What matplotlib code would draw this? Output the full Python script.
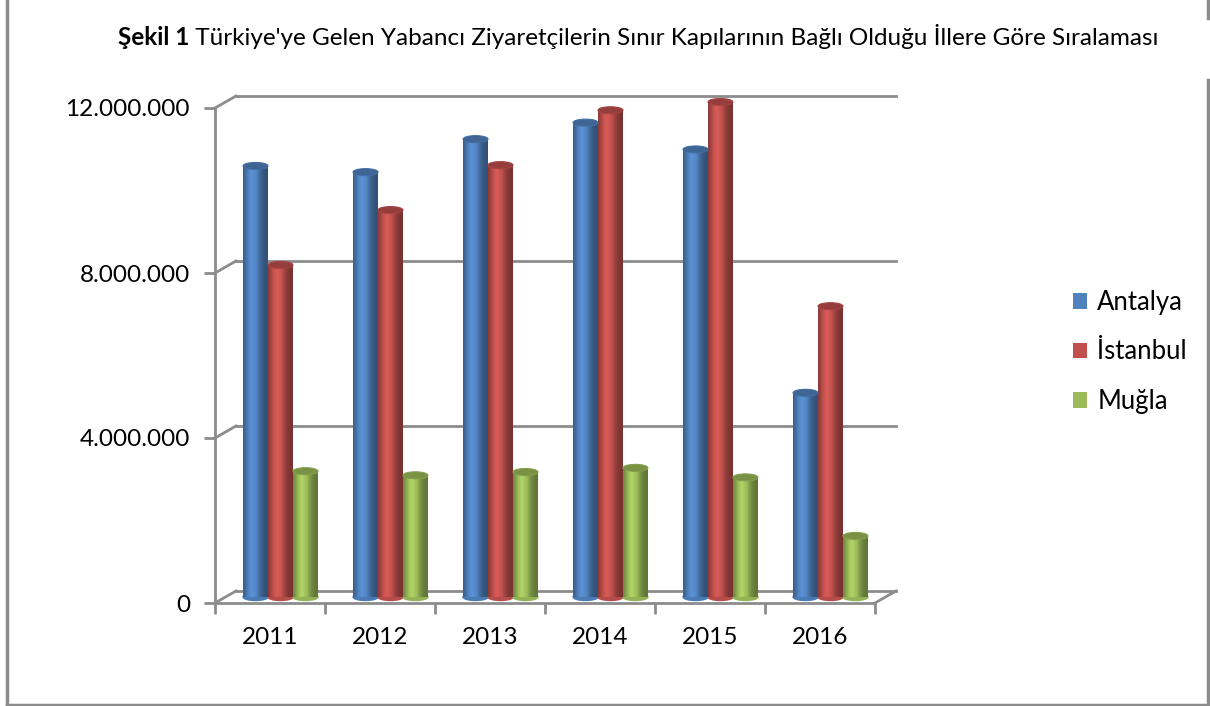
import numpy as np
import matplotlib
matplotlib.use("Agg")
import matplotlib.pyplot as plt
import matplotlib.transforms as mtransforms
from matplotlib.patches import Ellipse, Patch
from matplotlib.lines import Line2D

# === Data ===
years = ["2011", "2012", "2013", "2014", "2015", "2016"]
antalya = [10450000, 10300000, 11100000, 11500000, 10850000, 4950000]
istanbul = [8050000, 9380000, 10470000, 11800000, 12000000, 7050000]
mugla = [3050000, 2950000, 3030000, 3130000, 2900000, 1480000]
series_names = ["Antalya", "İstanbul", "Muğla"]
series_values = [antalya, istanbul, mugla]
series_colors = ["#4F81BD", "#C0504D", "#9BBB59"]
yticks = [0, 4000000, 8000000, 12000000]

# === Style ===
plt.rcParams["font.family"] = ["Lato", "DejaVu Sans"]
GRAY = "#8C8C8C"
DEPTH = (21, 12)        # back wall offset in pixels
W, H = 1210, 706

fig = plt.figure(figsize=(W / 100, H / 100), dpi=100)
ax = fig.add_axes([215 / W, (H - 603) / H, 660 / W, 495 / H])
ax.set_xlim(0, len(years))
ax.set_ylim(0, 12000000)
ax.patch.set_visible(False)

back = mtransforms.offset_copy(ax.transData, fig=fig, x=DEPTH[0], y=DEPTH[1], units="dots")
mid = mtransforms.offset_copy(ax.transData, fig=fig, x=DEPTH[0] / 2, y=DEPTH[1] / 2, units="dots")

# back wall gridlines + left diagonals
n = len(years)
for v in yticks:
    ax.plot([0, n], [v, v], color=GRAY, lw=2, transform=back, clip_on=False, zorder=1)
    p0 = ax.transData.transform((0, v))
    fig.add_artist(Line2D([p0[0] / W, (p0[0] + DEPTH[0]) / W],
                          [p0[1] / H, (p0[1] + DEPTH[1]) / H],
                          color=GRAY, lw=2, transform=fig.transFigure, zorder=1))
# right floor diagonal
p1 = ax.transData.transform((n, 0))
fig.add_artist(Line2D([p1[0] / W, (p1[0] + DEPTH[0]) / W],
                      [p1[1] / H, (p1[1] + DEPTH[1]) / H],
                      color=GRAY, lw=2, transform=fig.transFigure, zorder=1))

# === Cylinder bars ===
bw = 0.227
strips = 24
px_per_unit = 495 / 12000000
ell_h = 7 / px_per_unit
for s, (vals, col) in enumerate(zip(series_values, series_colors)):
    base = np.array(matplotlib.colors.to_rgb(col))
    for i, v in enumerate(vals):
        cx = i + 0.5 + (s - 1) * bw
        left = cx - bw / 2
        for k in range(strips):
            t = (k + 0.5) / strips
            m = 0.62 + 0.5 * np.exp(-((t - 0.38) / 0.3) ** 2)
            c = np.clip(base * m, 0, 1)
            ax.bar(left + k * bw / strips, v, width=bw / strips * 1.02, align="edge",
                   color=c, lw=0, transform=mid, clip_on=False, zorder=3)
        ax.add_patch(Ellipse((cx, 0), bw, ell_h, color=np.clip(base * 0.95, 0, 1),
                             transform=mid, clip_on=False, zorder=2.9))
        ax.add_patch(Ellipse((cx, v), bw, ell_h, facecolor=np.clip(base * 0.78, 0, 1),
                             edgecolor=np.clip(base * 0.85, 0, 1), lw=0.8,
                             transform=mid, clip_on=False, zorder=4))

# === Axes ===
for sp in ["top", "right"]:
    ax.spines[sp].set_visible(False)
for sp in ["left", "bottom"]:
    ax.spines[sp].set_color(GRAY)
    ax.spines[sp].set_linewidth(2)
    ax.spines[sp].set_zorder(5)
ax.set_yticks(yticks)
ax.set_yticklabels([f"{v:,}".replace(",", ".") for v in yticks])
ax.tick_params(axis="y", length=8, width=2, color=GRAY, pad=10, labelsize=17.5)
ax.set_xticks(range(n + 1))
ax.set_xticklabels([])
ax.set_xticks(np.arange(n) + 0.5, minor=True)
ax.set_xticklabels(years, minor=True)
ax.tick_params(axis="x", which="major", length=8, width=2, color=GRAY)
ax.tick_params(axis="x", which="minor", length=0, pad=17, labelsize=17.5)

# === Title ===
t1 = fig.text(118 / W, 1 - 45 / H, "Şekil 1", fontsize=17.5, fontweight="bold",
              ha="left", va="baseline")
ax.annotate(" Türkiye'ye Gelen Yabancı Ziyaretçilerin Sınır Kapılarının Bağlı Olduğu İllere Göre Sıralaması",
            xy=(1, 0), xycoords=t1, ha="left", va="bottom", fontsize=17.5,
            annotation_clip=False)

# === Legend ===
handles = [Patch(facecolor=c, edgecolor="none") for c in series_colors]
fig.legend(handles, series_names, loc="center left",
           bbox_to_anchor=(1073 / W, 1 - 352 / H), frameon=False, fontsize=18.5,
           handlelength=0.55, handleheight=0.55, handletextpad=0.4,
           labelspacing=0.95, borderpad=0, borderaxespad=0)

# === Outer border ===
bx = dict(color=GRAY, lw=2.5, transform=fig.transFigure)
fig.add_artist(Line2D([7 / W, 7 / W], [0.002, 1], **bx))
fig.add_artist(Line2D([7 / W, 1208 / W], [1.5 / H, 1.5 / H], **bx))
fig.add_artist(Line2D([1208 / W, 1208 / W], [1.5 / H, 1 - 80 / H], **bx))
fig.add_artist(Line2D([1208 / W, 1208 / W], [1 - 18 / H, 1], **bx))

fig.savefig("out.png", dpi=100)
